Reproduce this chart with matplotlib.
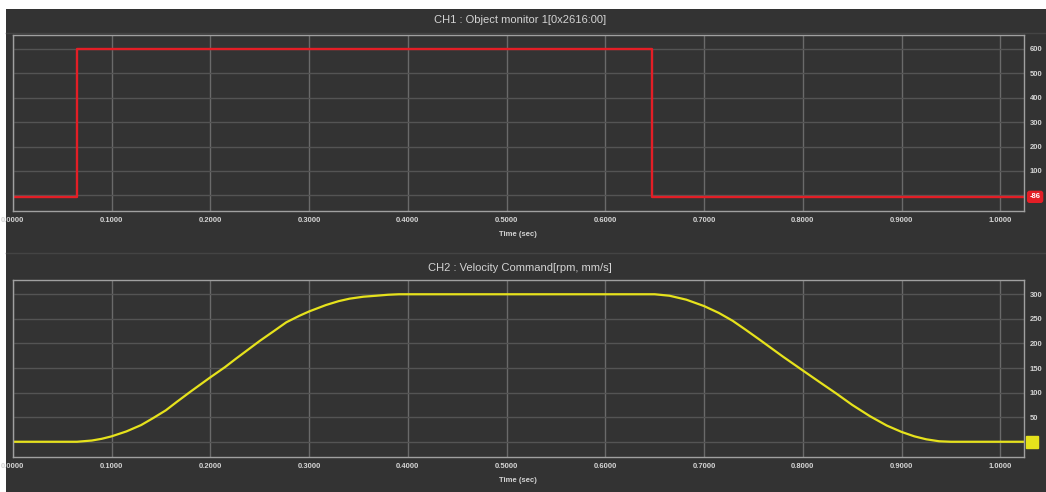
import matplotlib
matplotlib.use("Agg")
import matplotlib.pyplot as plt
import matplotlib.patches as mpatches
import matplotlib.transforms as mtransforms

plt.rcParams["font.family"] = ["Liberation Sans", "DejaVu Sans"]

# CH1 : object monitor (step signal)
obj_time = [0.0, 0.065, 0.647, 1.024]
obj_value = [-6, 600, -6, -6]
obj_ticks = [0, 100, 200, 300, 400, 500, 600]
obj_badge = "-86"

# CH2 : velocity command (rpm, mm/s)
vel_time = [0.0, 0.05, 0.065, 0.08, 0.09, 0.10, 0.115, 0.13, 0.142, 0.155,
            0.166, 0.18, 0.20, 0.215, 0.226, 0.24, 0.25, 0.265, 0.277, 0.29,
            0.30, 0.317, 0.33, 0.341, 0.355, 0.368, 0.38, 0.391, 0.62, 0.65,
            0.665, 0.682, 0.70, 0.715, 0.729, 0.742, 0.756, 0.78, 0.80, 0.818,
            0.834, 0.85, 0.868, 0.885, 0.90, 0.913, 0.925, 0.938, 0.95, 1.024]
vel_value = [0, 0, 0, 2.5, 6, 11, 21, 34, 48, 64,
             81, 102, 131, 152, 169, 190, 205, 226, 243, 256,
             265, 278, 286, 291, 295, 297, 299, 300, 300, 300,
             297, 289, 276, 262, 246, 228, 208, 173, 145, 120,
             98, 75, 52, 33, 20, 11, 5, 1, 0, 0]
vel_ticks = [0, 50, 100, 150, 200, 250, 300]

x_ticks = [0.0, 0.1, 0.2, 0.3, 0.4, 0.5, 0.6, 0.7, 0.8, 0.9, 1.0]

BG = "#333333"
TXT = "#d4d4d4"
RED = "#e41e26"
YEL = "#e6e21c"

fig = plt.figure(figsize=(10.46, 4.92), dpi=100)
fig.patch.set_facecolor(BG)
# white screenshot border (top / left)
fig.add_artist(mpatches.Rectangle((0, 1 - 9 / 492), 1, 9 / 492, transform=fig.transFigure,
                                  facecolor="white", edgecolor="none", zorder=-1))
fig.add_artist(mpatches.Rectangle((0, 0), 6 / 1046, 1, transform=fig.transFigure,
                                  facecolor="white", edgecolor="none", zorder=-1))
# separators under title bars
for yy in [33, 253]:
    fig.add_artist(plt.Line2D([6 / 1046, 1], [1 - yy / 492] * 2, transform=fig.transFigure,
                              color="#444444", lw=1))


def style_axes(ax, yticks, ylim):
    ax.set_facecolor(BG)
    ax.set_xlim(0, 1.024)
    ax.set_ylim(*ylim)
    ax.set_xticks(x_ticks)
    ax.set_xticklabels([f"{v:.4f}" for v in x_ticks], fontsize=5.5, fontweight="bold", color=TXT)
    ax.yaxis.tick_right()
    ax.set_yticks(yticks)
    ax.set_yticklabels([""] + [str(v) for v in yticks[1:]], fontsize=5.5,
                       fontweight="bold", color=TXT)
    ax.tick_params(length=0, pad=4)
    ax.set_xlabel("Time (sec)", fontsize=5.5, fontweight="bold", color=TXT, labelpad=5)
    ax.grid(axis="y", color="#545454", lw=1)
    ax.grid(axis="x", color="#6a6a6a", lw=1)
    ax.set_axisbelow(True)
    for s in ax.spines.values():
        s.set_color("#a0a0a0")
        s.set_linewidth(1)


ax1 = fig.add_axes([12.8 / 1046, 1 - 211 / 492, (1024 - 12.8) / 1046, 176 / 492])
style_axes(ax1, obj_ticks, (-64, 657))
ax1.plot(obj_time, obj_value, drawstyle="steps-post", color=RED, lw=1.7)
tr1 = mtransforms.blended_transform_factory(ax1.transAxes, ax1.transData)
ax1.text(1.011, obj_value[-1], obj_badge, transform=tr1, fontsize=5.5, fontweight="bold",
         color="white", ha="center", va="center", clip_on=False,
         bbox=dict(boxstyle="round,pad=0.35", fc=RED, ec="none"))
fig.text(0.497, 1 - 20 / 492, "CH1 : Object monitor 1[0x2616:00]", ha="center", va="center",
         fontsize=8, color=TXT)

ax2 = fig.add_axes([12.8 / 1046, 1 - 457 / 492, (1024 - 12.8) / 1046, 177 / 492])
style_axes(ax2, vel_ticks, (-31, 329))
ax2.plot(vel_time, vel_value, color=YEL, lw=1.6)
tr2 = mtransforms.blended_transform_factory(ax2.transAxes, ax2.transData)
ax2.plot([1.008], [vel_value[-1]], transform=tr2, marker="s", ms=8, color=YEL, clip_on=False)
fig.text(0.497, 1 - 268 / 492, "CH2 : Velocity Command[rpm, mm/s]", ha="center", va="center",
         fontsize=8, color=TXT)

plt.savefig("out.png", dpi=100, facecolor=fig.get_facecolor())
